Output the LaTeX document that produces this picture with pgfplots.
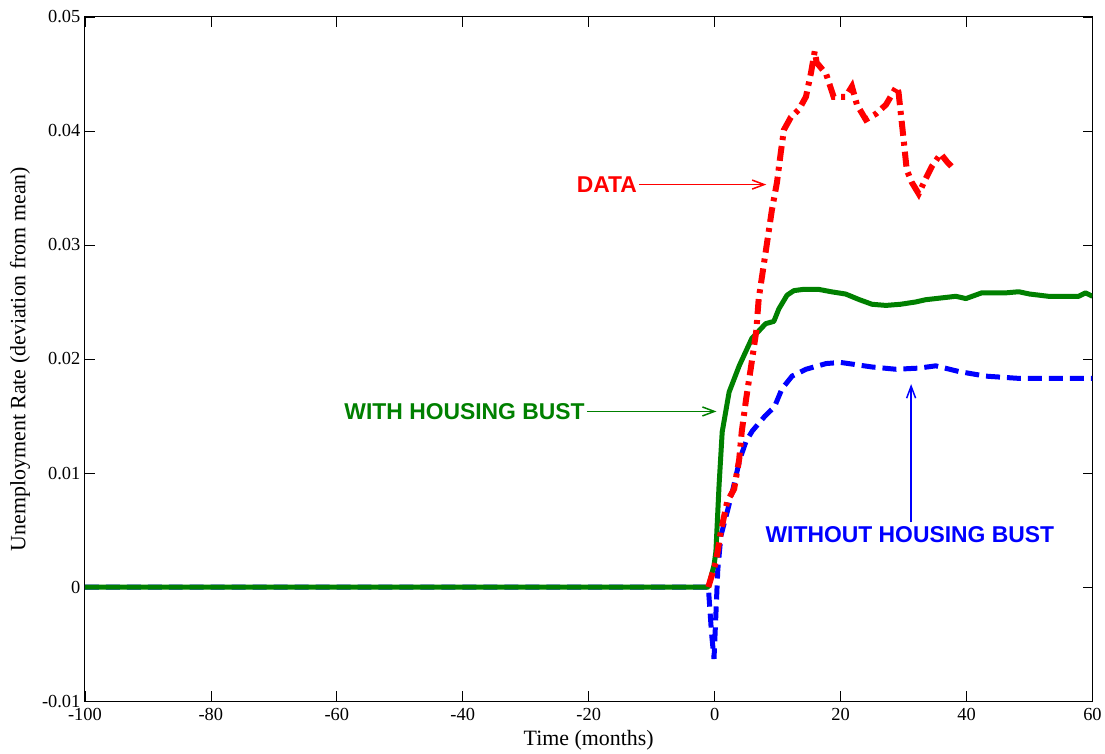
\documentclass[border=0pt]{standalone}
\usepackage{pgfplots}
\pgfplotsset{compat=1.18}
\usepackage{fontspec}
\setmainfont{Liberation Serif}
\newfontfamily\arialf{Liberation Sans}
\usetikzlibrary{arrows.meta}
\definecolor{mgreen}{RGB}{0,128,0}
\definecolor{mblue}{RGB}{0,0,255}
\definecolor{mred}{RGB}{255,0,0}
\begin{document}
\begin{tikzpicture}
\begin{axis}[
  scale only axis,
  width=1009bp, height=685bp,
  xmin=-100, xmax=60, ymin=-0.01, ymax=0.05,
  scaled x ticks=false, scaled y ticks=false,
  xtick={-100,-80,-60,-40,-20,0,20,40,60},
  xticklabels={-100,-80,-60,-40,-20,0,20,40,60},
  ytick={-0.01,0,0.01,0.02,0.03,0.04,0.05},
  yticklabels={-0.01,0,0.01,0.02,0.03,0.04,0.05},
  tick align=inside,
  major tick length=10bp,
  tick style={black, line width=0.6bp},
  axis line style={black, line width=1bp},
  ticklabel style={font=\fontsize{18.5}{20}\selectfont, text=black},
  xticklabel style={yshift=-4bp},
  yticklabel style={xshift=-1bp},
  xlabel={Time (months)},
  ylabel={Unemployment Rate (deviation from mean)},
  label style={font=\fontsize{22}{24}\selectfont},
  xlabel style={yshift=-3bp},
  ylabel style={yshift=5bp},
  clip=true,
]
% WITHOUT HOUSING BUST (blue dashed)
\addplot[mblue, line width=5bp, dash pattern=on 14bp off 7bp] coordinates {
(-100,0) (-1,0) (-0.5,-0.004) (-0.1,-0.0063) (0.5,0.0015) (1,0.0045) (2,0.0066)
(3,0.0088) (4,0.0112) (5,0.0128) (6,0.0137) (8,0.0150) (9.5,0.0158) (10.7,0.0174)
(12.3,0.0185) (14.5,0.0191) (17.7,0.0196) (20,0.0197) (22.5,0.0195) (25,0.0193)
(28.8,0.0191) (32.4,0.0192) (35.1,0.0194) (38.8,0.0189) (43,0.0185) (48.3,0.0183)
(53.5,0.0183) (60,0.0183)
};
% WITH HOUSING BUST (green solid)
\addplot[mgreen, line width=5bp, line join=round] coordinates {
(-100,0) (-1,0) (-0.1,0.0019) (0.2,0.0031) (0.7,0.0089) (1.2,0.0136) (2.3,0.0171)
(3.9,0.0194) (5.9,0.0218) (8.1,0.0231) (9.4,0.0233) (10.2,0.0244) (11.5,0.0256)
(12.6,0.0260) (14,0.0261) (16.6,0.0261) (18.5,0.0259) (20.8,0.0257) (23,0.0252)
(25,0.0248) (27.2,0.0247) (29.5,0.0248) (31.9,0.0250) (33.5,0.0252) (35.1,0.0253)
(38.3,0.0255) (39.9,0.0253) (42.4,0.0258) (46.2,0.0258) (48.3,0.0259) (50,0.0257)
(53,0.0255) (57.8,0.0255) (58.9,0.0258) (60,0.0255)
};
% DATA (red dash-dot)
\addplot[mred, line width=6bp, dash pattern=on 15bp off 6bp on 4bp off 6bp] coordinates {
(-1,0) (0.2,0.0022) (1,0.0049) (2,0.0075) (3.1,0.0086) (3.9,0.0112) (4.3,0.0136)
(5,0.0165) (5.8,0.0194) (6.6,0.0224) (7,0.0253) (8,0.0290) (9.1,0.0331) (9.9,0.0355)
(10.5,0.0381) (11,0.0401) (12.1,0.0412) (13.4,0.0419) (14.5,0.0430) (15.3,0.0451)
(15.9,0.0470) (16.2,0.0460) (17.7,0.0450) (18.9,0.0430) (20.8,0.0430) (21.8,0.0439)
(22.6,0.0423) (24,0.0410) (25.6,0.0415) (27.2,0.0423) (28.9,0.0439) (29.2,0.0434)
(30,0.0393) (30.5,0.0366) (31.3,0.0355) (32.4,0.0345) (33.5,0.0358) (34.5,0.0369)
(35.9,0.0380) (36.9,0.0373) (37.6,0.0369)
};
% annotations
\node[font=\arialf\bfseries\fontsize{23}{25}\selectfont, text=mred, anchor=east, inner sep=0pt] at (axis cs:-12.3,0.0353) {DATA};
\draw[mred, line width=1.5bp, -{Straight Barb[length=12bp,width=9bp]}] (axis cs:-12,0.0353) -- (axis cs:8.2,0.0353);
\node[font=\arialf\bfseries\fontsize{23}{25}\selectfont, text=mgreen, anchor=east, inner sep=0pt] at (axis cs:-20.6,0.0154) {WITH HOUSING BUST};
\draw[mgreen, line width=1.5bp, -{Straight Barb[length=12bp,width=9bp]}] (axis cs:-20.3,0.0154) -- (axis cs:0.3,0.0154);
\node[font=\arialf\bfseries\fontsize{23}{25}\selectfont, text=mblue, inner sep=0pt] at (axis cs:31,0.0046) {WITHOUT HOUSING BUST};
\draw[mblue, line width=1.5bp, -{Straight Barb[length=12bp,width=9bp]}] (axis cs:31.2,0.0057) -- (axis cs:31.2,0.0178);
\end{axis}
\path (current axis.south west) ++(-85bp,-47bp) -- ++(1105bp,749bp);
\end{tikzpicture}
\end{document}
